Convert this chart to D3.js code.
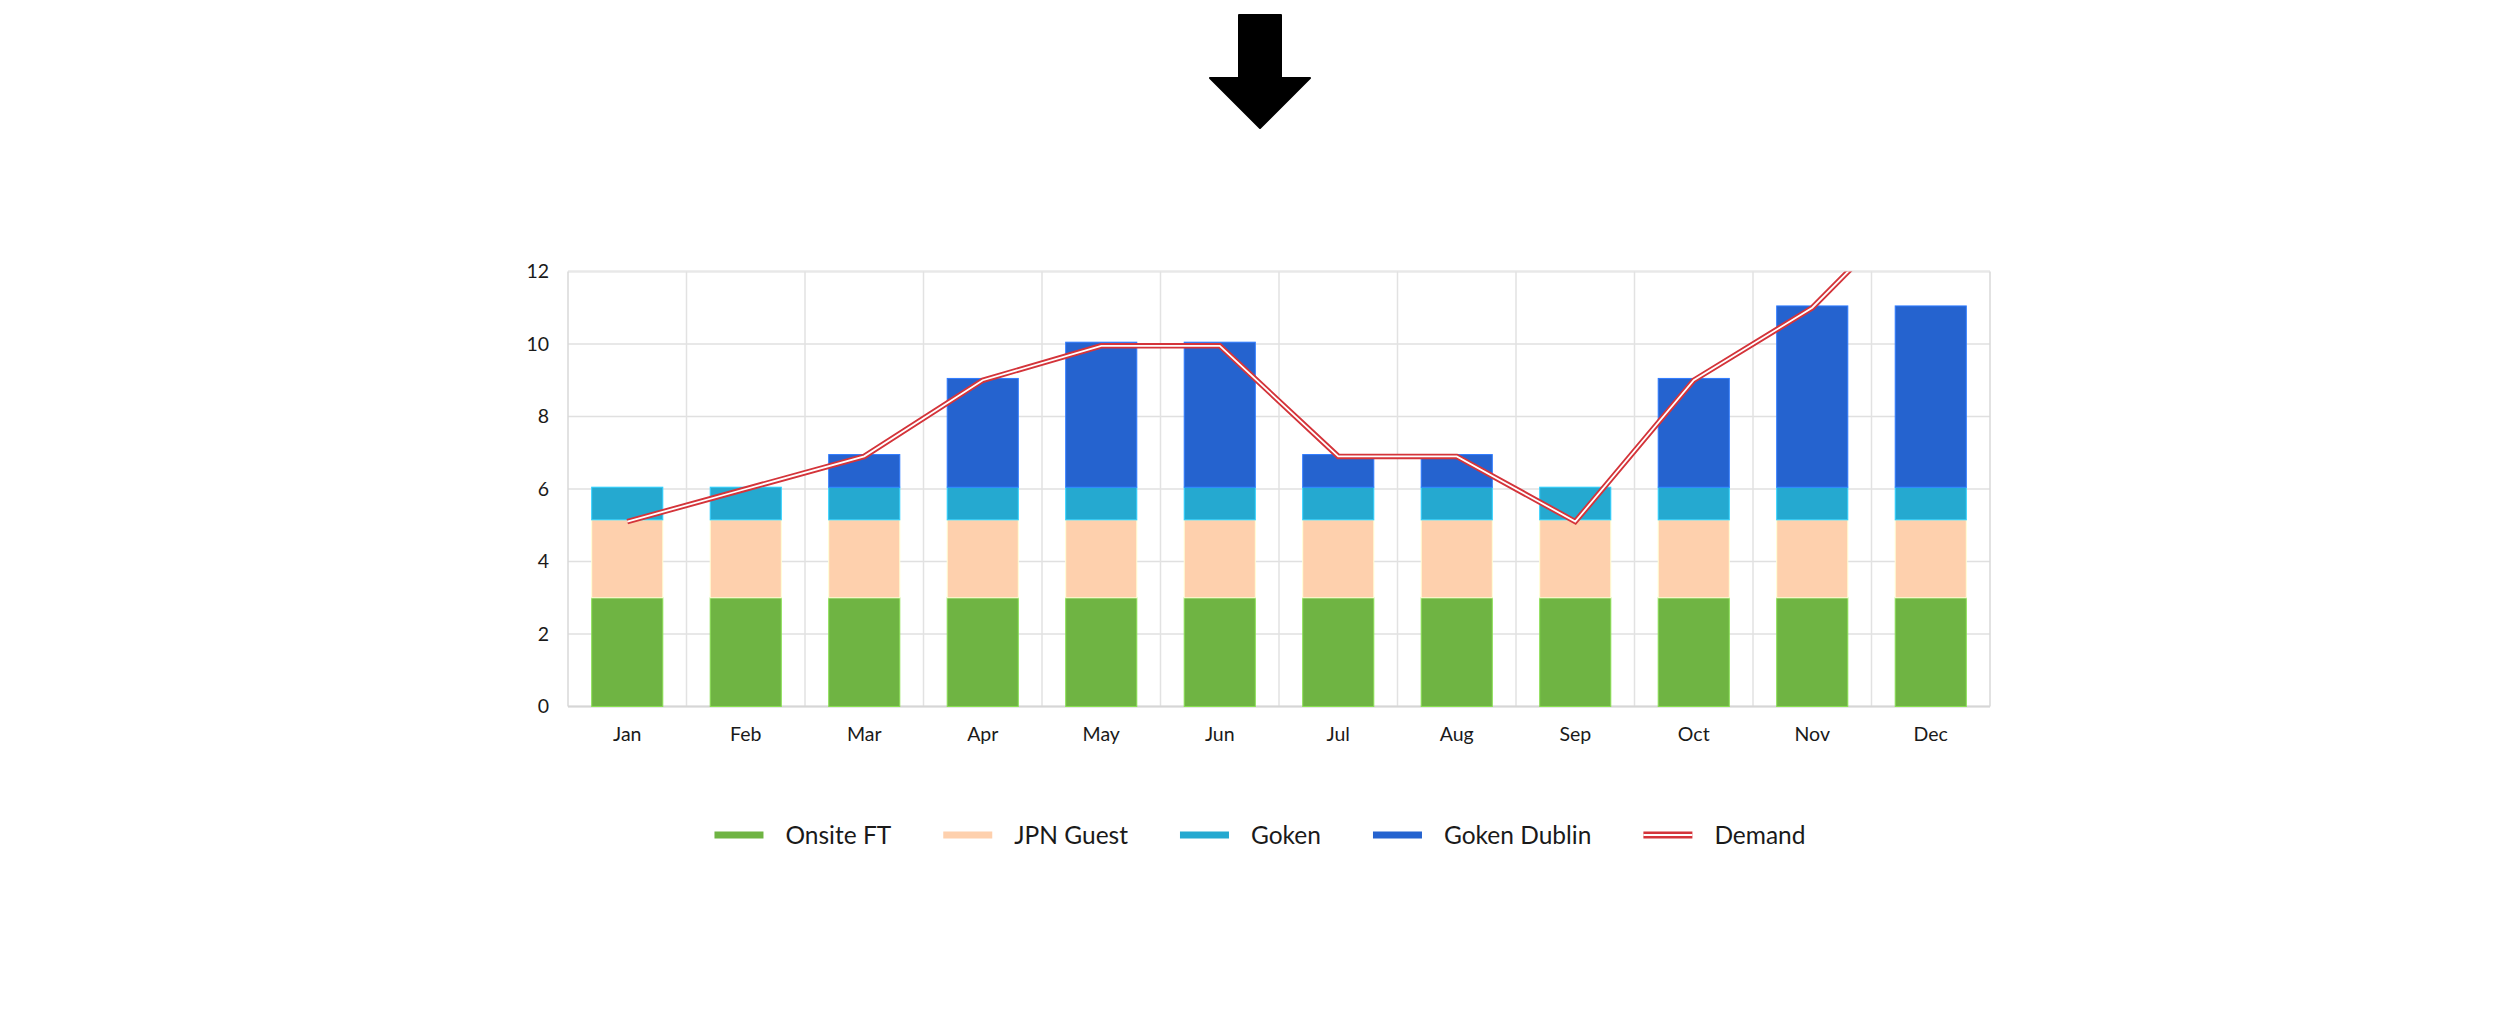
<!DOCTYPE html>
<html>
<head>
<meta charset="utf-8">
<script src="https://cdn.jsdelivr.net/npm/d3@7"></script>
<style>
  html, body { margin: 0; padding: 0; background: #fff; }
  svg text { font-family: Lato, "Open Sans", sans-serif; fill: #1a1a1a; }
</style>
</head>
<body>
<svg id="chart"></svg>
<script>
const months = ["Jan", "Feb", "Mar", "Apr", "May", "Jun", "Jul", "Aug", "Sep", "Oct", "Nov", "Dec"];
const onsiteFT = [3, 3, 3, 3, 3, 3, 3, 3, 3, 3, 3, 3];
const jpnGuest = [2.15, 2.15, 2.15, 2.15, 2.15, 2.15, 2.15, 2.15, 2.15, 2.15, 2.15, 2.15];
const goken = [0.9, 0.9, 0.9, 0.9, 0.9, 0.9, 0.9, 0.9, 0.9, 0.9, 0.9, 0.9];
const gokenDublin = [0, 0, 0.9, 3, 4, 4, 0.9, 0.9, 0, 3, 5, 5];
const demand = [5.1, 6.0, 6.9, 9.0, 9.95, 9.95, 6.9, 6.9, 5.1, 9.0, 11.0, 14.3];
const yTicks = [0, 2, 4, 6, 8, 10, 12];

const seriesNames = ["Onsite FT", "JPN Guest", "Goken", "Goken Dublin"];
const seriesColors = ["#6fb443", "#fed0ad", "#25a9d0", "#2563cf"];
const demandColor = "#d4343a";

const W = 2520, H = 1028;
const margin = { top: 271.5, left: 568, right: W - 1990, bottom: H - 706.5 };
const width = W - margin.left - margin.right;
const height = H - margin.top - margin.bottom;

const svg = d3.select("#chart")
  .attr("width", W)
  .attr("height", H);

// arrow at the top
const ax = W / 2;
svg.append("path")
  .attr("d", `M${ax - 21},15 L${ax + 21},15 L${ax + 21},78 L${ax + 50},78 L${ax},128 L${ax - 50},78 L${ax - 21},78 Z`)
  .attr("fill", "#000")
  .attr("stroke", "#000")
  .attr("stroke-width", 2)
  .attr("stroke-linejoin", "round");

const g = svg.append("g")
  .attr("transform", `translate(${margin.left},${margin.top})`);

const table = months.map((m, i) => ({
  month: m,
  "Onsite FT": onsiteFT[i],
  "JPN Guest": jpnGuest[i],
  "Goken": goken[i],
  "Goken Dublin": gokenDublin[i]
}));

const x = d3.scaleBand()
  .domain(months)
  .range([0, width])
  .paddingInner(0.4)
  .paddingOuter(0.2);

const y = d3.scaleLinear()
  .domain([0, 12])
  .range([height, 0]);

const color = d3.scaleOrdinal().domain(seriesNames).range(seriesColors);

// grid
g.append("g")
  .selectAll("line")
  .data(yTicks)
  .enter()
  .append("line")
  .attr("x1", 0)
  .attr("x2", width)
  .attr("y1", d => y(d))
  .attr("y2", d => y(d))
  .attr("stroke", d => d === 12 ? "#e8e8e8" : "#e0e0e0")
  .attr("stroke-width", d => d === 12 ? 2.5 : 1.5);

g.append("g")
  .selectAll("line")
  .data(d3.range(months.length + 1))
  .enter()
  .append("line")
  .attr("x1", i => i * x.step())
  .attr("x2", i => i * x.step())
  .attr("y1", 0)
  .attr("y2", height)
  .attr("stroke", (d, i) => (i === 0 || i === months.length) ? "#d9d9d9" : "#e2e2e2")
  .attr("stroke-width", 1.5);

g.append("line")
  .attr("x1", 0).attr("x2", width)
  .attr("y1", height).attr("y2", height)
  .attr("stroke", "#d6d6d6")
  .attr("stroke-width", 2);

// stacked bars
const stacked = d3.stack().keys(seriesNames)(table);

g.append("g")
  .selectAll("g")
  .data(stacked)
  .enter()
  .append("g")
  .attr("fill", d => color(d.key))
  .attr("stroke", d => d3.color(color(d.key)).brighter(0.6))
  .attr("stroke-width", 1)
  .selectAll("rect")
  .data(d => d.filter(p => p[1] - p[0] > 0))
  .enter()
  .append("rect")
  .attr("x", d => x(d.data.month))
  .attr("y", d => y(d[1]))
  .attr("width", x.bandwidth())
  .attr("height", d => y(d[0]) - y(d[1]));

// demand line (double stroke), clipped to the plot
svg.append("defs").append("clipPath")
  .attr("id", "plot-clip")
  .append("rect")
  .attr("x", -2).attr("y", 0)
  .attr("width", width + 4).attr("height", height);

const line = d3.line()
  .x((d, i) => x(months[i]) + x.bandwidth() / 2)
  .y(d => y(d));

const lineG = g.append("g").attr("clip-path", "url(#plot-clip)");
lineG.append("path")
  .datum(demand)
  .attr("d", line)
  .attr("fill", "none")
  .attr("stroke", demandColor)
  .attr("stroke-width", 5.5);
lineG.append("path")
  .datum(demand)
  .attr("d", line)
  .attr("fill", "none")
  .attr("stroke", "#fff")
  .attr("stroke-width", 1.8);

// y labels
g.append("g")
  .selectAll("text")
  .data(yTicks)
  .enter()
  .append("text")
  .attr("x", -19)
  .attr("y", d => y(d))
  .attr("dy", "0.35em")
  .attr("text-anchor", "end")
  .style("font-size", "19.5px")
  .text(d => d);

// x labels
g.append("g")
  .selectAll("text")
  .data(months)
  .enter()
  .append("text")
  .attr("x", d => x(d) + x.bandwidth() / 2)
  .attr("y", height + 28)
  .attr("dy", "0.35em")
  .attr("text-anchor", "middle")
  .style("font-size", "19.5px")
  .text(d => d);

// legend
const legendItems = seriesNames.concat(["Demand"]);
const legend = svg.append("g");
const swW = 49, swGap = 22, itemGap = 52, legendY = 835;

let cursor = 0;
legendItems.forEach((name, i) => {
  const item = legend.append("g").attr("transform", `translate(${cursor},${legendY})`);
  if (name === "Demand") {
    item.append("line")
      .attr("x1", 0).attr("x2", swW).attr("y1", 0).attr("y2", 0)
      .attr("stroke", demandColor).attr("stroke-width", 7);
    item.append("line")
      .attr("x1", 0).attr("x2", swW).attr("y1", 0).attr("y2", 0)
      .attr("stroke", "#fff").attr("stroke-width", 2.2);
  } else {
    item.append("rect")
      .attr("x", 0).attr("y", -3.5)
      .attr("width", swW).attr("height", 7)
      .attr("fill", color(name));
  }
  const t = item.append("text")
    .attr("x", swW + swGap)
    .attr("y", 0)
    .attr("dy", "0.35em")
    .style("font-size", "24.5px")
    .text(name);
  cursor += swW + swGap + t.node().getComputedTextLength() + itemGap;
});
const legendWidth = cursor - itemGap;
legend.attr("transform", `translate(${W / 2 - legendWidth / 2},0)`);
</script>
</body>
</html>
